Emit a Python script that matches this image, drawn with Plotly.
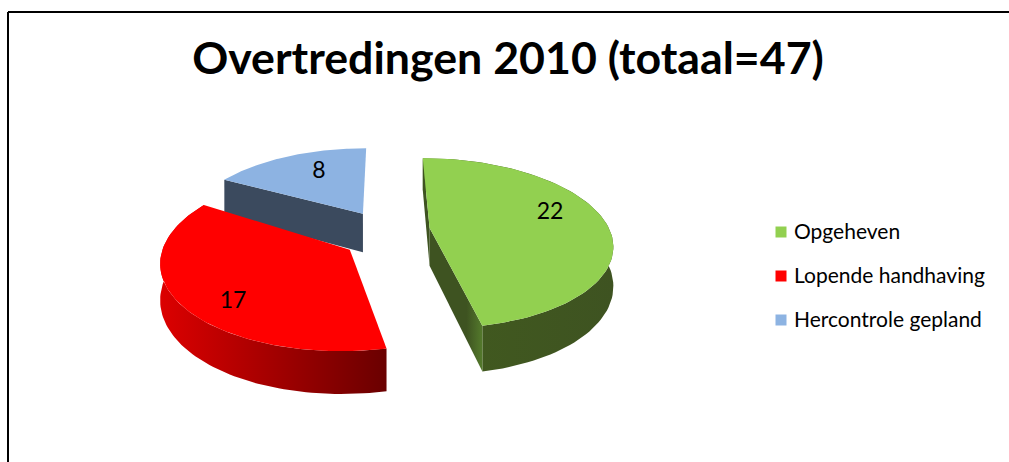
import numpy as np
import plotly.graph_objects as go

categories = ["Opgeheven", "Lopende handhaving", "Hercontrole gepland"]
values = [22, 17, 8]
title_text = "Overtredingen 2010 (totaal=47)"

COLORS = ["#92d050", "#ff0000", "#8db3e2"]
FONT = "Lato, 'Open Sans', sans-serif"
W, H = 1009, 462
CX, CY = 385, 226
RX, RY = 180, 83
K, EXPLODE = 0.18, 0.25
DEPTH = [38, 34, 40]
NUDGE = [(0, 4), (2, 5), (0, 5)]
APEX_DOWN = [0, 6, 0]
LABEL_POS = [(550, 213), (233, 302), (319, 172)]
LEGEND_X, LEGEND_Y = [781, 781, 781], [232, 276, 320]
LEGEND_TEXT_X, LEGEND_TEXT_Y = [794, 794, 794], [234, 278, 322]

def project(X, Y, nudge, down=0.0):
    s = 1 / (1 - K * np.asarray(Y))
    return (CX + nudge[0] + RX * np.asarray(X) * s,
            CY + nudge[1] + RY * np.asarray(Y) * s + down * s)

def wedge(a0, a1):
    mid = (a0 + a1) / 2
    ox, oy = EXPLODE * np.sin(mid), -EXPLODE * np.cos(mid)
    t = np.linspace(a0, a1, 90)
    return ox, oy, ox + np.sin(t), oy - np.cos(t)

def poly(fig, x, y, color=None, grad=None):
    kw = dict(x=list(x), y=list(y), mode="lines", fill="toself", line=dict(width=0),
              hoverinfo="skip", showlegend=False)
    if grad is not None:
        kw["fillgradient"] = dict(type="horizontal", colorscale=grad)
    else:
        kw["fillcolor"] = color
    fig.add_trace(go.Scatter(**kw))

total = sum(values)
edges = np.cumsum([0] + values) / total * 2 * np.pi
wedges = [wedge(edges[i], edges[i + 1]) for i in range(len(values))]

SIDE = {
    0: dict(outer=[[0, "#5c8432"], [0.2, "#41591f"], [1, "#3e5321"]],
            radial=[[0, "#3e5321"], [0.7, "#3e5321"], [1, "#547a2c"]], back="#3e5321"),
    1: dict(outer=[[0, "#dc0000"], [1, "#6a0000"]], radial=None, back=None),
    2: dict(outer=None, radial=None, back="#3b4a5e"),
}

fig = go.Figure()
for i in [2, 1, 0]:
    ox, oy, ax, ay = wedges[i]
    tx, ty = project(ax, ay, NUDGE[i])
    bx, by = project(ax, ay, NUDGE[i], DEPTH[i])
    apx, apy = project(ox, oy, NUDGE[i])
    apy = apy + APEX_DOWN[i]
    abx, aby = project(ox, oy, NUDGE[i], DEPTH[i])
    st = SIDE[i]
    if st["outer"]:
        poly(fig, np.r_[tx, bx[::-1]], np.r_[ty, by[::-1]], grad=st["outer"])
    if i == 2:
        poly(fig, [tx[0], bx[0], abx, apx], [ty[0], by[0], aby, apy], st["back"])
    if st["radial"]:
        poly(fig, [apx, abx, bx[-1], tx[-1]], [apy, aby, by[-1], ty[-1]], grad=st["radial"])
    if i == 0:
        poly(fig, [tx[0], bx[0], abx, apx], [ty[0], by[0], aby, apy], st["back"])
    poly(fig, np.r_[apx, tx], np.r_[apy, ty], COLORS[i])

fig.add_trace(go.Scatter(
    x=[p[0] for p in LABEL_POS], y=[p[1] for p in LABEL_POS], mode="text",
    text=[str(v) for v in values], textposition="middle center",
    textfont=dict(family=FONT, size=23, color="#000000"),
    hoverinfo="skip", showlegend=False))

fig.add_trace(go.Scatter(
    x=LEGEND_X, y=LEGEND_Y, mode="markers",
    marker=dict(symbol="square", size=11, color=COLORS),
    hoverinfo="skip", showlegend=False))
fig.add_trace(go.Scatter(
    x=LEGEND_TEXT_X, y=LEGEND_TEXT_Y, mode="text", text=categories,
    textposition="middle right", textfont=dict(family=FONT, size=21, color="#000000"),
    hoverinfo="skip", showlegend=False))

fig.add_shape(type="line", x0=8, x1=W, y0=12, y1=12, line=dict(color="#000000", width=2))
fig.add_shape(type="line", x0=8, x1=8, y0=12, y1=H, line=dict(color="#000000", width=2))

fig.update_layout(
    width=W, height=H, margin=dict(l=0, r=0, t=0, b=0), autosize=False, showlegend=False,
    paper_bgcolor="#ffffff", plot_bgcolor="#ffffff",
    xaxis=dict(visible=False, range=[0, W], fixedrange=True),
    yaxis=dict(visible=False, range=[H, 0], fixedrange=True),
    title=dict(text="<b>" + title_text + "</b>", x=508 / W, xanchor="center", y=1 - 58 / H,
               yanchor="middle", font=dict(family=FONT, size=44.7, color="#000000")),
)
fig.write_html("out.html", config=dict(displayModeBar=False),
               post_script="document.body.style.margin='0';document.body.style.overflow='hidden';")
